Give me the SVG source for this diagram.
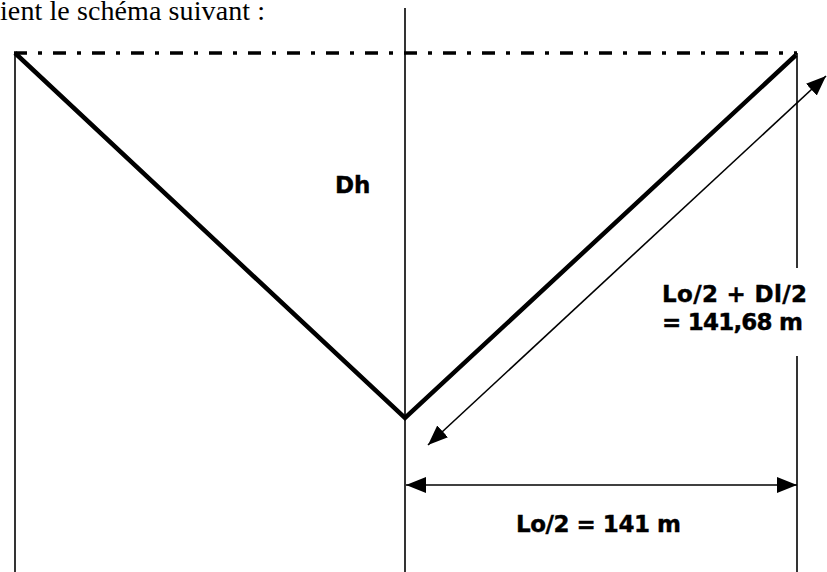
<svg xmlns="http://www.w3.org/2000/svg" width="827" height="572" viewBox="0 0 827 572">
  <style>
    .thin { stroke: #000; stroke-width: 1.6; fill: none; }
    .thick { stroke: #000; stroke-width: 4.5; fill: none; stroke-linejoin: miter; }
    .axis { stroke: #000; stroke-width: 3.5; fill: none; stroke-dasharray: 13 11 4 11; }
    .lbl { font-family: "DejaVu Sans", Verdana, sans-serif; font-weight: bold; font-size: 23px; fill: #000; stroke: #000; stroke-width: 0.4; }
    .hdr { font-family: "Liberation Serif", "Times New Roman", serif; font-size: 28px; fill: #000; }
  </style>
  <defs>
    <marker id="ah" markerUnits="userSpaceOnUse" markerWidth="22" markerHeight="18" refX="20" refY="8" orient="auto-start-reverse" viewBox="0 0 22 18">
      <path d="M0,0 L20,8 L0,16 Z" fill="#000"/>
    </marker>
  </defs>
  <text class="hdr" x="0" y="20" textLength="265">ient le schéma suivant :</text>
  <g id="frame">
    <line class="thin" x1="405" y1="8" x2="405" y2="572"/>
    <line class="thin" x1="15" y1="53" x2="15" y2="572"/>
    <line class="thin" x1="797" y1="53" x2="797" y2="268"/>
    <line class="thin" x1="797" y1="356" x2="797" y2="572"/>
    <line class="axis" x1="14" y1="53" x2="797" y2="53"/>
  </g>
  <g id="cable">
    <polyline class="thick" points="15,53 405,418 796,55"/>
  </g>
  <g id="connectors">
    <line class="thin" x1="428" y1="445" x2="826" y2="76" marker-start="url(#ah)" marker-end="url(#ah)"/>
    <line class="thin" x1="406" y1="485" x2="797" y2="485" marker-start="url(#ah)" marker-end="url(#ah)"/>
  </g>
  <g id="labels">
    <text class="lbl" x="335" y="193">Dh</text>
    <text class="lbl" x="662" y="302" textLength="145">Lo/2 + Dl/2</text>
    <text class="lbl" x="662" y="330" textLength="141">= 141,68 m</text>
    <text class="lbl" x="516" y="532" textLength="165">Lo/2 = 141 m</text>
  </g>
</svg>
